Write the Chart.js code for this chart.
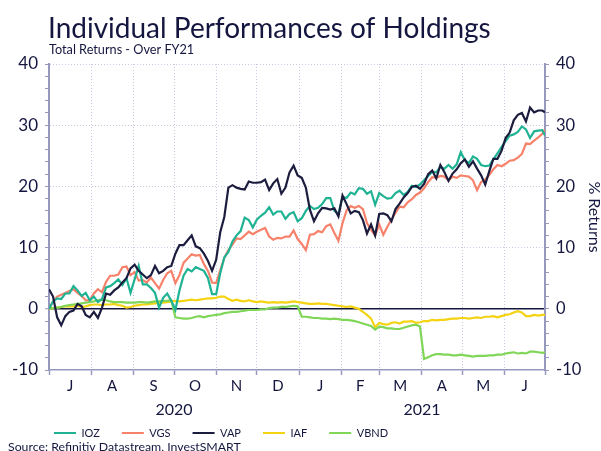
<!DOCTYPE html>
<html>
<head>
<meta charset="utf-8">
<script src="https://cdn.jsdelivr.net/npm/chart.js@4.4.0/dist/chart.umd.min.js"></script>
<style>
  html, body { margin: 0; padding: 0; background: #fff; }
  #wrap { width: 601px; height: 451px; position: relative; }
</style>
</head>
<body>
<div id="wrap"><canvas id="chart"></canvas></div>
<script>
// days since 1 Jul 2020
const days = [
  0, 3, 6, 9, 12, 15, 18, 21, 24, 27,
  30, 33, 36, 39, 42, 45, 48, 51, 54, 57,
  60, 63, 66, 69, 72, 75, 78, 81, 84, 87,
  90, 93, 96, 99, 102, 105, 108, 111, 114, 117,
  120, 123, 126, 129, 132, 135, 138, 141, 144, 147,
  150, 153, 156, 159, 162, 165, 168, 171, 174, 177,
  180, 183, 186, 189, 192, 195, 198, 201, 204, 207,
  210, 213, 216, 219, 222, 225, 228, 231, 234, 237,
  240, 243, 246, 249, 252, 255, 258, 261, 264, 267,
  270, 273, 276, 279, 282, 285, 288, 291, 294, 297,
  300, 303, 306, 309, 312, 315, 318, 321, 324, 327,
  330, 333, 336, 339, 342, 345, 348, 351, 354, 357,
  360, 363, 365
];

const iozValues = [
  0, 1.2, 1.7, 1.6, 2.5, 2.5, 3.7, 3.0, 2.1, 2.6,
  1.4, 2.0, 1.1, 1.6, 3.5, 3.7, 4.2, 4.8, 3.9, 5.0,
  2.6, 4.8, 7.0, 4.0, 4.0, 3.4, 2.6, 0.2, 1.8, 2.5,
  1.3, -0.2, 3.0, 5.4, 6.5, 6.1, 6.8, 6.5, 6.2, 5.0,
  2.4, 2.4, 5.8, 8.4, 9.3, 11.0, 12.0, 12.7, 14.9, 14.5,
  13.3, 14.6, 15.2, 15.7, 16.6, 15.4, 15.9, 15.9, 14.7, 15.5,
  15.8, 14.3, 14.8, 16.0, 16.8, 16.3, 16.5, 17.1, 18.1, 18.1,
  16.0, 15.5, 18.3, 18.1, 19.0, 18.7, 19.7, 19.6, 18.8, 19.2,
  17.0, 18.9, 18.4, 18.0, 18.1, 18.9, 19.3, 18.6, 19.1, 20.1,
  19.9, 20.3, 21.0, 21.7, 22.4, 22.3, 23.2, 22.9, 23.5, 22.9,
  23.6, 25.6, 24.3, 23.8, 24.9, 24.5, 23.5, 23.3, 23.4, 24.4,
  25.4, 26.4, 27.4, 28.3, 28.5, 28.9, 29.8, 29.3, 27.9, 29.0,
  29.1, 29.2, 28.3
];

const vgsValues = [
  0, 1.2, 2.0, 2.3, 2.6, 2.9, 3.2, 2.6, 2.1, 1.4,
  1.4, 2.5, 3.2, 2.7, 4.4, 5.4, 5.4, 5.6, 6.8, 6.9,
  5.5, 6.0, 4.6, 4.7, 4.3, 5.1, 4.2, 3.3, 4.7, 5.8,
  6.2, 4.2, 5.5, 7.5, 8.2, 8.9, 8.7, 8.8, 7.3, 6.2,
  4.3, 4.2, 6.3, 8.3, 9.6, 10.5, 11.5, 11.4, 12.0, 12.6,
  12.2, 12.6, 12.9, 13.2, 11.8, 11.3, 11.6, 11.5, 11.8, 11.8,
  12.8, 11.4, 10.6, 9.6, 12.1, 12.2, 12.7, 12.5, 13.5, 13.8,
  12.4, 11.1, 14.0, 16.1, 16.8, 16.5, 16.8, 16.3, 14.0, 12.9,
  12.0, 13.8, 12.1, 13.4, 14.6, 15.7, 16.7, 16.6, 17.4, 17.9,
  18.6, 19.0, 19.7, 20.7, 21.5, 21.4, 21.7, 21.6, 21.0, 21.6,
  21.4, 21.8, 21.7, 21.6, 21.0, 19.4, 20.7, 21.1, 21.9, 22.8,
  23.5, 23.3, 23.7, 24.2, 24.3, 24.7, 25.3, 27.0, 26.9, 27.5,
  28.0, 28.6, 29.3
];

const vapValues = [
  3.2, 2.0, -1.4, -2.7, -1.2, -0.5, -0.3, 0.8, 0.4, -1.0,
  -1.4, -0.5, -1.5, 0.2, 2.5, 2.3, 3.0, 3.5, 4.3, 5.0,
  6.6, 7.2, 6.2, 5.6, 5.0, 5.5, 7.0, 5.8, 6.2, 6.8,
  7.0, 9.0, 10.4, 10.4, 11.2, 12.0, 10.2, 9.9, 9.0, 7.8,
  6.2, 8.0, 12.5, 15.0, 19.8, 20.2, 19.8, 19.6, 19.5, 20.8,
  20.6, 20.6, 20.7, 21.1, 19.4, 20.5, 21.2, 18.8, 19.8, 22.3,
  23.4, 21.8, 21.4, 19.8, 16.2, 14.3, 15.6, 16.5, 16.4, 16.2,
  16.4, 15.1, 18.5, 17.1, 15.6, 16.0, 15.8, 14.5, 12.3, 13.8,
  12.0, 15.5, 15.6, 15.3, 14.3, 16.3, 17.2, 18.2, 18.9, 19.9,
  20.1, 19.6, 20.4, 22.0, 22.6, 21.3, 23.5, 22.3, 20.9, 22.1,
  22.8, 23.8, 24.4, 23.2, 24.1, 22.9, 21.8, 20.3, 22.5, 24.5,
  24.5, 25.8, 27.9, 28.8, 30.8, 31.7, 32.0, 30.6, 32.9, 32.1,
  32.4, 32.4, 32.1
];

const iafValues = [
  0, 0.1, 0.2, 0.3, 0.4, 0.4, 0.4, 0.5, 0.3, 0.4,
  0.6, 0.7, 0.7, 0.6, 0.7, 0.7, 0.8, 0.6, 0.5, 0.2,
  0.3, 0.5, 0.6, 0.7, 0.7, 0.8, 0.9, 1.0, 1.0, 1.1,
  1.2, 1.3, 1.2, 1.3, 1.4, 1.5, 1.4, 1.5, 1.6, 1.7,
  1.7, 1.8, 2.0, 2.0, 1.6, 1.3, 1.5, 1.3, 1.2, 1.4,
  1.2, 1.1, 1.2, 1.1, 1.0, 1.1, 1.0, 1.1, 1.0, 1.1,
  1.2, 1.1, 1.0, 0.9, 0.8, 0.8, 0.9, 0.8, 0.8, 0.7,
  0.6, 0.5, 0.4, 0.3, 0.4, 0.2, 0.0, -0.5, -1.0, -1.6,
  -3.0, -2.3, -2.5, -2.6, -2.3, -2.2, -2.4, -2.1, -2.1, -2.0,
  -2.3, -2.2, -2.0, -2.0, -1.8, -1.9, -1.8, -1.8, -1.7, -1.6,
  -1.6, -1.5, -1.5, -1.6, -1.5, -1.4, -1.5, -1.3, -1.3, -1.2,
  -1.4, -1.2, -1.0, -0.9, -0.6, -0.4, -0.6, -1.2, -1.2, -1.0,
  -1.1, -1.0, -1.0
];

const vbndValues = [
  0, 0.1, 0.2, 0.3, 0.5, 0.6, 0.7, 0.8, 0.9, 1.0,
  1.1, 1.2, 1.4, 1.5, 1.4, 1.2, 1.1, 1.1, 1.1, 1.0,
  1.0, 1.0, 1.1, 1.1, 1.0, 1.1, 1.2, 1.2, 1.3, 1.3,
  1.4, -1.4, -1.5, -1.6, -1.6, -1.5, -1.3, -1.2, -1.4, -1.2,
  -1.1, -1.0, -0.9, -0.7, -0.6, -0.5, -0.5, -0.4, -0.3, -0.2,
  -0.2, -0.2, -0.1, -0.1, 0.1, 0.2, 0.2, 0.3, 0.3, 0.4,
  0.5, 0.4, -1.3, -1.3, -1.4, -1.5, -1.5, -1.6, -1.6, -1.7,
  -1.6, -1.7, -1.8, -1.8, -1.9, -2.0, -2.2, -2.4, -2.6, -2.8,
  -3.4, -2.9, -3.0, -3.2, -3.2, -3.3, -3.3, -3.1, -2.9, -2.7,
  -2.6, -2.9, -8.2, -7.9, -7.6, -7.4, -7.4, -7.5, -7.5, -7.6,
  -7.6, -7.5, -7.6, -7.7, -7.8, -7.7, -7.7, -7.7, -7.6, -7.6,
  -7.5, -7.5, -7.3, -7.2, -7.1, -7.3, -7.2, -7.3, -7.0, -7.0,
  -7.1, -7.2, -7.1
];

// month boundaries (days since 1 Jul 2020) and axis text
const monthStarts = [0, 31, 62, 92, 123, 153, 184, 215, 243, 274, 304, 335, 365];
const monthLabels = ['J', 'A', 'S', 'O', 'N', 'D', 'J', 'F', 'M', 'A', 'M', 'J'];
const yearLabels = ['2020', '2021'];
const yearStartIdx = [0, 6];
const yearEndIdx = [6, 12];

const titleText = 'Individual Performances of Holdings';
const subtitleText = 'Total Returns - Over FY21';
const sourceText = 'Source: Refinitiv Datastream, InvestSMART';

const NAVY = '#14163f';
const AXIS = '#9698bd';
const GRID = '#c9cae2';
const FONT = 'Lato';

Chart.defaults.font.family = FONT;
Chart.defaults.color = NAVY;

function series(label, values, color, order) {
  return {
    label,
    data: days.map((d, i) => ({ x: d, y: values[i] })),
    borderColor: color,
    backgroundColor: color,
    borderWidth: 2.2,
    pointRadius: 0,
    tension: 0,
    order
  };
}

function yGridColor(ctx) {
  if (!ctx.tick) return GRID;
  const v = ctx.tick.value;
  if (v === 0) return NAVY;
  if (v % 10 === 0 && v > -10) return GRID;
  return 'rgba(0,0,0,0)';
}

/**
 * Draw title, subtitle, month/year labels and source line
 */
const textPlugin = {
  id: 'chartTexts',
  afterDraw(chart) {
    const { ctx, chartArea, scales } = chart;
    const x = scales.x;
    ctx.save();
    ctx.fillStyle = NAVY;
    ctx.textAlign = 'left';
    ctx.textBaseline = 'alphabetic';
    ctx.font = '28px ' + FONT;
    ctx.fillText(titleText, 48, 38);
    ctx.font = '12.7px ' + FONT;
    ctx.fillText(subtitleText, 49, 54);

    ctx.textAlign = 'center';
    ctx.textBaseline = 'middle';
    ctx.font = '15px ' + FONT;
    monthLabels.forEach((m, i) => {
      const mid = (monthStarts[i] + monthStarts[i + 1]) / 2;
      ctx.fillText(m, x.getPixelForValue(mid), chartArea.bottom + 16);
    });
    ctx.font = '16px ' + FONT;
    yearLabels.forEach((yl, i) => {
      const mid = (monthStarts[yearStartIdx[i]] + monthStarts[yearEndIdx[i]]) / 2;
      ctx.fillText(yl, x.getPixelForValue(mid), chartArea.bottom + 40);
    });

    ctx.textAlign = 'left';
    ctx.textBaseline = 'alphabetic';
    ctx.font = '12.3px ' + FONT;
    ctx.fillText(sourceText, 8, 451);
    ctx.restore();
  }
};

function yTicks(size) {
  return {
    stepSize: 2,
    autoSkip: false,
    padding: 7,
    color: NAVY,
    font: { size },
    callback: v => (v % 10 === 0 ? v : '')
  };
}

new Chart(document.getElementById('chart').getContext('2d'), {
  type: 'line',
  data: {
    datasets: [
      series('IOZ', iozValues, '#1fb393', 1),
      series('VGS', vgsValues, '#f7826b', 2),
      series('VAP', vapValues, '#1b1c3e', 0),
      series('IAF', iafValues, '#f3d312', 4),
      series('VBND', vbndValues, '#80d658', 3)
    ]
  },
  options: {
    responsive: true,
    maintainAspectRatio: false,
    animation: false,
    events: [],
    layout: { padding: { left: 32, right: 0, top: 64, bottom: 2.5 } },
    scales: {
      x: {
        type: 'linear',
        min: 0,
        max: 365,
        afterBuildTicks: s => { s.ticks = monthStarts.map(v => ({ value: v })); },
        afterFit: s => { s.height = 35.5; s.paddingLeft = 0; s.paddingRight = 0; },
        ticks: { display: false },
        grid: { color: GRID, lineWidth: 1, tickLength: 5, tickColor: AXIS, tickWidth: 1.5 },
        border: { color: AXIS, width: 1.5, dash: [1, 2] }
      },
      y: {
        position: 'left',
        min: -10,
        max: 40,
        ticks: yTicks(17),
        afterFit: s => {
          s.width = 17;
          s.paddingTop = 0;
          s.paddingBottom = 0;
          // labels sit left of the (narrow) axis box, so don't clip them to it
          s._computeLabelArea = () => undefined;
        },
        grid: {
          color: yGridColor,
          lineWidth: ctx => (ctx.tick && ctx.tick.value === 0 ? 1.5 : 1),
          tickLength: 4,
          tickColor: AXIS,
          tickWidth: 1
        },
        border: {
          color: AXIS,
          width: 2,
          dash: ctx => (ctx.tick && ctx.tick.value !== 0 ? [1, 2] : [])
        }
      },
      y2: {
        position: 'right',
        min: -10,
        max: 40,
        ticks: yTicks(16.5),
        afterFit: s => { s.width = 56; s.paddingTop = 0; s.paddingBottom = 0; },
        title: {
          display: true,
          text: '% Returns',
          color: NAVY,
          font: { size: 16, lineHeight: 0.9 },
          padding: 0
        },
        grid: { drawOnChartArea: false, tickLength: 4, tickColor: AXIS, tickWidth: 1 },
        border: { color: AXIS, width: 2 }
      }
    },
    plugins: {
      title: { display: false },
      tooltip: { enabled: false },
      legend: {
        display: true,
        position: 'bottom',
        align: 'start',
        labels: {
          usePointStyle: true,
          pointStyle: 'line',
          pointStyleWidth: 22,
          padding: 22,
          color: NAVY,
          font: { size: 11 },
          sort: (a, b) => a.datasetIndex - b.datasetIndex
        }
      }
    }
  },
  plugins: [textPlugin]
});
</script>
</body>
</html>
